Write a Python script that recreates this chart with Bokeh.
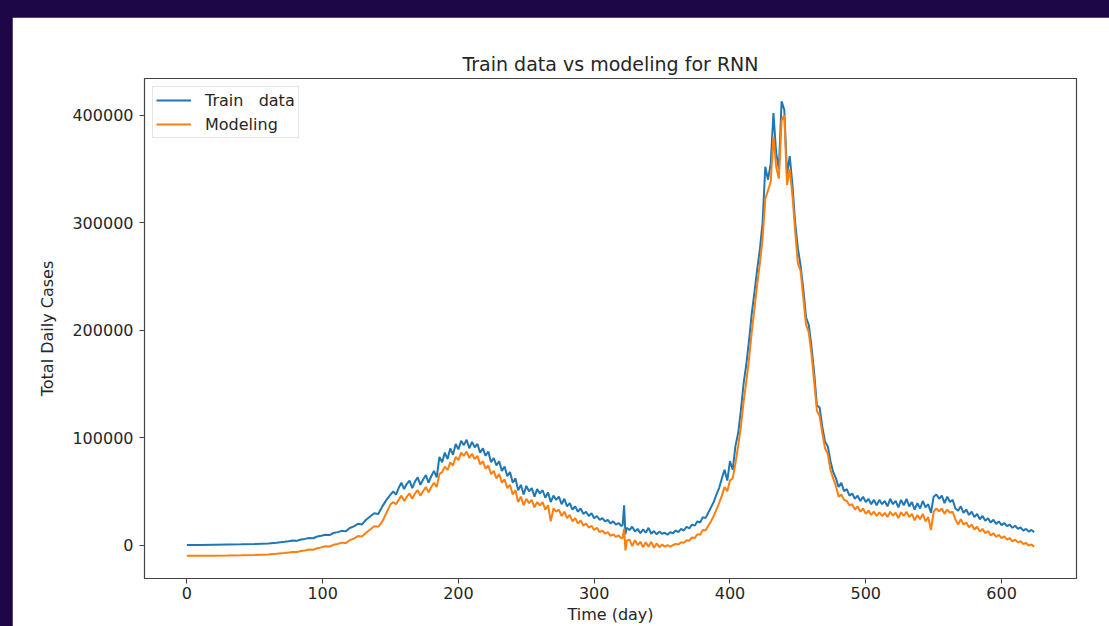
from bokeh.plotting import figure
from bokeh.models import Range1d, FixedTicker, NumeralTickFormatter
from bokeh.embed import file_html
from bokeh.resources import INLINE

# ---- data ----
days = ([0, 10, 20, 30, 40, 50, 60, 66, 72] + list(range(75, 148, 3))
        + list(range(150, 321, 2)) + [321, 322, 323] + list(range(324, 625, 2)))

train_data = [
    # days 0..147
    0, 100, 300, 500, 700, 1000, 1500, 2200, 3000,
    3500, 4200, 3900, 5200, 5700, 6600, 6300, 7900, 8600, 9600, 9300, 11200, 12000,
    13200, 12700, 15800, 17300, 19800, 19200, 23500, 26500, 29500, 28800, 36000, 42000,
    # days 150..320 step 2
    47000, 50000, 47000, 53000, 58000, 52000, 57000, 60000, 53000, 59000,
    63000, 56000, 61000, 65000, 58000, 64000, 69000, 63000, 82000, 77000,
    86000, 80000, 90000, 84000, 94000, 89000, 97000, 93000, 98000, 90000,
    96000, 91000, 94000, 86000, 90000, 83000, 87000, 77000, 81000, 74000,
    78000, 69000, 73000, 64000, 68000, 58000, 62000, 51000, 56000, 47000,
    55000, 50000, 53000, 45000, 52000, 48000, 51000, 44000, 49000, 40000,
    46000, 42000, 45000, 38000, 43000, 36000, 39000, 33000, 36000, 31000,
    34000, 29000, 31000, 27000, 29500, 25000, 27000, 23500, 25000, 22000,
    23500, 20000, 22000, 19000, 20500, 17500,
    # days 321..323
    19000, 37000, 10000,
    # days 324..624 step 2
    16000, 14000, 17000, 12500, 15000, 11000, 14500, 11500, 16000, 10500,
    13000, 10000, 12500, 10500, 11500, 9500, 12000, 11000, 13500, 12000,
    15000, 13500, 17000, 15500, 19000, 18000, 22000, 21000, 26000, 25000,
    30000, 35000, 40000, 47000, 53000, 62000, 70000, 60000, 78000, 70000,
    92000, 104000, 125000, 150000, 168000, 190000, 215000, 235000, 256000, 275000,
    300000, 352000, 340000, 355000, 402000, 365000, 350000, 413000, 405000, 345000,
    362000, 335000, 300000, 276000, 260000, 238000, 212000, 205000, 185000, 160000,
    130000, 128000, 110000, 96000, 92000, 78000, 68000, 62000, 54000, 58000,
    50000, 52000, 46000, 48000, 43000, 46000, 41000, 45000, 40000, 43000,
    38000, 42000, 37000, 42000, 38000, 41000, 36000, 43000, 38000, 41000,
    35000, 42000, 37000, 43000, 36000, 40000, 33000, 39000, 34000, 41000,
    35000, 38000, 30000, 45000, 47000, 43000, 46000, 39000, 45000, 40000,
    42000, 34000, 32000, 36000, 30000, 33000, 28000, 31000, 26000, 29000,
    24000, 27000, 22500, 25000, 21000, 23500, 19500, 22000, 18500, 20500,
    17500, 19000, 16000, 18000, 15000, 16500, 13500, 15000, 12500, 14000,
    12000,
]

modeling = [
    # days 0..147
    -10000, -10000, -9900, -9800, -9600, -9300, -8800, -8200, -7500,
    -7000, -6400, -6600, -5500, -5000, -4200, -4400, -3000, -2200, -1200, -1400, 200, 1000,
    2200, 1800, 4500, 6000, 8300, 8000, 11500, 14500, 17500, 17000, 22000, 30000,
    # days 150..320 step 2
    38000, 40000, 38000, 42000, 46000, 41000, 45000, 48000, 43000, 48000,
    51000, 46000, 50000, 54000, 49000, 54000, 58000, 54000, 66000, 68000,
    73000, 70000, 77000, 74000, 82000, 79000, 86000, 83000, 87000, 81000,
    85000, 80000, 83000, 75000, 78000, 71000, 74000, 66000, 69000, 62000,
    66000, 58000, 61000, 53000, 56000, 47000, 51000, 40000, 45000, 37000,
    43000, 39000, 42000, 35000, 40000, 37000, 40000, 33000, 37000, 22000,
    34000, 31000, 33000, 27000, 31000, 25000, 28000, 22000, 25000, 20000,
    23000, 18000, 20000, 16000, 18000, 14000, 16000, 12000, 13500, 10500,
    12000, 8500, 10000, 7500, 9000, 6000,
    # days 321..323
    7000, 15000, -5000,
    # days 324..624 step 2
    4000, 5000, -1000, 4500, 0, 3000, -2000, 2500, -1500, 3000,
    -2500, 1500, -2000, 500, -1500, 0, -1500, 0, 1000, 500,
    2500, 2000, 4500, 4000, 7000, 6500, 10000, 9500, 14000, 13500,
    18000, 22000, 27000, 33000, 39000, 46000, 54000, 50000, 60000, 62000,
    76000, 92000, 110000, 133000, 152000, 173000, 198000, 220000, 242000, 262000,
    285000, 322000, 330000, 338000, 380000, 352000, 341000, 395000, 400000, 335000,
    350000, 325000, 292000, 262000, 255000, 230000, 205000, 198000, 178000, 152000,
    125000, 120000, 104000, 90000, 85000, 70000, 62000, 55000, 45000, 47000,
    42000, 41000, 37000, 38000, 33000, 36000, 31000, 34000, 29000, 32000,
    28000, 31000, 27000, 30500, 27000, 30000, 26000, 31000, 27500, 30000,
    25000, 30500, 27000, 31000, 26000, 29000, 23000, 28000, 24000, 29000,
    22000, 26000, 14000, 31000, 34000, 31500, 34000, 29000, 33000, 30000,
    31000, 24000, 19000, 24000, 19000, 21000, 16500, 19000, 14500, 17000,
    12500, 15000, 11000, 13000, 9000, 11000, 7500, 9500, 6500, 8000,
    5000, 6500, 3500, 5000, 2500, 3500, 1000, 2000, -500, 500,
    -1500,
]

x_ticks = [0, 100, 200, 300, 400, 500, 600]
y_ticks = [0, 100000, 200000, 300000, 400000]

title_text = "Train data vs modeling for RNN"
x_label = "Time (day)"
y_label = "Total Daily Cases"
series_labels = ["Train   data", "Modeling"]
series_colors = ["#1f77b4", "#ff7f0e"]

# ---- ranges with matplotlib-like 5% margins ----
xmin, xmax = min(days), max(days)
ymin = min(min(train_data), min(modeling))
ymax = max(max(train_data), max(modeling))
xpad = (xmax - xmin) * 0.05
ypad = (ymax - ymin) * 0.05

FONT = "DejaVu Sans"
TXT = "#262626"

p = figure(
    width=1097, height=609,
    output_backend="svg", toolbar_location=None,
    x_range=Range1d(xmin - xpad, xmax + xpad),
    y_range=Range1d(ymin - ypad, ymax + ypad),
    min_border_left=132, min_border_right=33, min_border_top=61, min_border_bottom=48,
    background_fill_color="white", border_fill_color="white",
)

p.title.text = title_text
p.title.align = "center"
p.title.text_font = FONT
p.title.text_font_size = "19px"
p.title.text_font_style = "normal"
p.title.text_color = TXT
p.title.standoff = 8

p.line(days, train_data, color=series_colors[0], line_width=2, legend_label=series_labels[0])
p.line(days, modeling, color=series_colors[1], line_width=2, legend_label=series_labels[1])

p.xgrid.visible = False
p.ygrid.visible = False
p.outline_line_color = "#444444"
p.outline_line_width = 1.2

for ax in (p.xaxis[0], p.yaxis[0]):
    ax.axis_line_color = "#444444"
    ax.major_tick_line_color = "#444444"
    ax.major_tick_out = 5
    ax.major_tick_in = 0
    ax.minor_tick_out = 0
    ax.minor_tick_in = 0
    ax.major_label_text_font = FONT
    ax.major_label_text_font_size = "16px"
    ax.major_label_text_color = TXT
    ax.axis_label_text_font = FONT
    ax.axis_label_text_font_size = "16px"
    ax.axis_label_text_font_style = "normal"
    ax.axis_label_text_color = TXT

p.xaxis[0].ticker = FixedTicker(ticks=x_ticks)
p.yaxis[0].ticker = FixedTicker(ticks=y_ticks)
p.yaxis[0].formatter = NumeralTickFormatter(format="0")
p.xaxis[0].axis_label = x_label
p.yaxis[0].axis_label = y_label
p.xaxis[0].major_label_standoff = 3
p.xaxis[0].axis_label_standoff = 3
p.yaxis[0].major_label_standoff = 6
p.yaxis[0].axis_label_standoff = 12

lg = p.legend[0]
lg.location = "top_left"
lg.margin = 8
lg.padding = 3
lg.spacing = 4
lg.glyph_width = 35
lg.glyph_height = 20
lg.label_height = 20
lg.label_standoff = 14
lg.label_text_font = FONT
lg.label_text_font_size = "16px"
lg.label_text_color = TXT
lg.border_line_color = "#cccccc"
lg.border_line_width = 1
lg.background_fill_alpha = 0.8

html = file_html(p, INLINE, title=title_text)
css = ("<style>html,body{margin:0 !important;overflow:hidden !important;"
       "background:#1d0746 !important;}"
       "body{padding:17px 0 0 12px !important;box-sizing:border-box !important;}</style>")
html = html.replace("</head>", css + "</head>", 1)
open("out.html", "w").write(html)
